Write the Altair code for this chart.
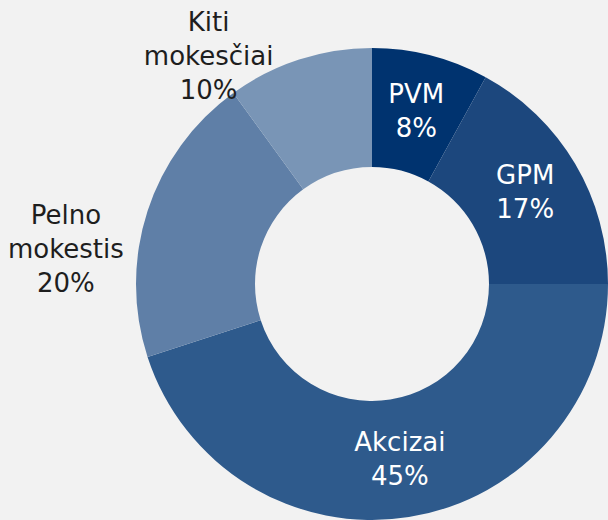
import math
import altair as alt
import pandas as pd

# ---- data ----
categories = ["PVM", "GPM", "Akcizai", "Pelno mokestis", "Kiti mokesčiai"]
values = [8, 17, 45, 20, 10]

# ---- styling / layout ----
colors = ["#00336F", "#1C477D", "#2E5A8C", "#5F7FA7", "#7995B6"]
CX, CY = 372, 284
R_OUT, R_IN = 236, 117
LINE_H = 34
label_layout = {
    "PVM": dict(r=178, off=0.0, col="#FFFFFF"),
    "GPM": dict(r=178, off=0.0, col="#FFFFFF"),
    "Akcizai": dict(r=178, off=0.0, col="#FFFFFF"),
    "Pelno mokestis": dict(r=308, off=-11.7, col="#1E1E1E"),
    "Kiti mokesčiai": dict(r=280, off=-17.7, col="#1E1E1E"),
}

df = pd.DataFrame({"cat": categories, "value": values})
df["idx"] = range(len(df))
df["label"] = [c.replace(" ", "\n") + f"\n{v}%" for c, v in zip(categories, values)]
df["nl"] = [lab.count("\n") for lab in df["label"]]
df["lr"] = [label_layout[c]["r"] for c in categories]
df["off"] = [label_layout[c]["off"] for c in categories]
df["tcol"] = [label_layout[c]["col"] for c in categories]

base = alt.Chart(df)

arcs = base.mark_arc(innerRadius=R_IN, outerRadius=R_OUT).encode(
    theta=alt.Theta("value:Q", stack=True),
    color=alt.Color("cat:N", scale=alt.Scale(domain=categories, range=colors), legend=None),
    order=alt.Order("idx:Q"),
    x=alt.value(CX),
    y=alt.value(CY),
)

labels = (
    base.transform_window(cum="sum(value)", sort=[alt.SortField("idx")], frame=[None, 0])
    .transform_joinaggregate(total="sum(value)")
    .transform_calculate(
        ang="(datum.cum - datum.value/2)/datum.total*2*PI + datum.off*PI/180",
    )
    .transform_calculate(
        lx=f"{CX} + datum.lr*sin(datum.ang)",
        ly=f"{CY} - datum.lr*cos(datum.ang) - datum.nl*{LINE_H}/2",
    )
    .mark_text(font="DejaVu Sans", fontSize=26, lineBreak="\n", lineHeight=LINE_H,
               align="center", baseline="middle")
    .encode(
        x=alt.X("lx:Q", scale=None),
        y=alt.Y("ly:Q", scale=None),
        text="label:N",
        color=alt.Color("tcol:N", scale=None),
    )
)

chart = (
    alt.layer(arcs, labels)
    .properties(width=608, height=520, autosize=alt.AutoSizeParams(type="none"), padding=0,
                background="#F2F2F2")
    .configure_view(stroke=None)
)

chart.save("out.html", embed_options={"renderer": "svg", "actions": False})
